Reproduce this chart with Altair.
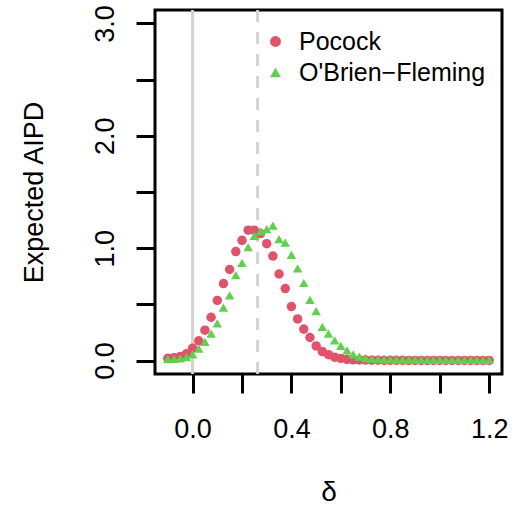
import altair as alt
import pandas as pd

# Effect size grid (delta) and expected AIPD for the two group-sequential designs
delta = [-0.1, -0.075, -0.05, -0.025, 0.0, 0.025, 0.05, 0.075, 0.1, 0.125,
         0.15, 0.175, 0.2, 0.225, 0.25, 0.275, 0.3, 0.325, 0.35, 0.375,
         0.4, 0.425, 0.45, 0.475, 0.5, 0.525, 0.55, 0.575, 0.6, 0.625,
         0.65, 0.675, 0.7, 0.725, 0.75, 0.775, 0.8, 0.825, 0.85, 0.875,
         0.9, 0.925, 0.95, 0.975, 1.0, 1.025, 1.05, 1.075, 1.1, 1.125,
         1.15, 1.175, 1.2]

pocock = [0.020, 0.025, 0.035, 0.060, 0.110, 0.175, 0.270, 0.385, 0.535, 0.685,
          0.810, 0.970, 1.070, 1.160, 1.160, 1.130, 1.040, 0.930, 0.770, 0.640,
          0.480, 0.370, 0.280, 0.205, 0.130, 0.080, 0.052, 0.030, 0.018, 0.010,
          0.006, 0.005, 0.004, 0.003, 0.003, 0.002, 0.002, 0.002, 0.002, 0.001,
          0.001, 0.001, 0.001, 0.001, 0.001, 0.001, 0.001, 0.001, 0.001, 0.001,
          0.001, 0.001, 0.001]

obrien_fleming = [0.012, 0.015, 0.020, 0.030, 0.055, 0.105, 0.165, 0.240, 0.330, 0.470,
                  0.580, 0.760, 0.870, 1.010, 1.110, 1.150, 1.170, 1.200, 1.080, 1.050,
                  0.940, 0.820, 0.690, 0.540, 0.440, 0.300, 0.240, 0.180, 0.130, 0.090,
                  0.055, 0.035, 0.022, 0.016, 0.012, 0.010, 0.009, 0.008, 0.008, 0.007,
                  0.007, 0.007, 0.006, 0.006, 0.006, 0.006, 0.006, 0.006, 0.005, 0.005,
                  0.005, 0.005, 0.005]

series_names = ["Pocock", "O'Brien\u2212Fleming"]
series_colors = ["#DF536B", "#61D04F"]
series_shapes = ["circle", "triangle-up"]

# reference lines: null effect and design effect
ref_solid = [0.0]
ref_dashed = [0.263]

x_ticks = [0.0, 0.2, 0.4, 0.6, 0.8, 1.0, 1.2]
x_labels = ["0.0", "0.4", "0.8", "1.2"]
y_ticks = [0.0, 0.5, 1.0, 1.5, 2.0, 2.5, 3.0]
y_labels = ["0.0", "1.0", "2.0", "3.0"]

points = pd.concat([
    pd.DataFrame({"delta": delta, "aipd": pocock, "design": series_names[0]}),
    pd.DataFrame({"delta": delta, "aipd": obrien_fleming, "design": series_names[1]}),
], ignore_index=True)

FONT = "Liberation Sans"

x_scale = alt.Scale(domain=[-0.152, 1.252], nice=False, zero=False)
y_scale = alt.Scale(domain=[-0.12, 3.12], nice=False, zero=False)

label_list_x = "[" + ",".join("'%s'" % s for s in x_labels) + "]"
label_list_y = "[" + ",".join("'%s'" % s for s in y_labels) + "]"

x_axis = alt.Axis(
    values=x_ticks, format=".1f", title="\u03b4",
    labelExpr="indexof(%s, datum.label) >= 0 ? datum.label : ''" % label_list_x,
    domain=False, grid=False, ticks=True, tickSize=19, tickWidth=3, tickColor="black",
    labelFontSize=27, labelFont=FONT, labelColor="black", labelPadding=44,
    labelBaseline="alphabetic", labelAlign="center", labelFlush=False,
    titleFontSize=28, titleFont=FONT, titleFontWeight="normal", titleColor="black",
    titleY=126, titleBaseline="alphabetic",
)

y_axis = alt.Axis(
    values=y_ticks, format=".1f", title="Expected AIPD",
    labelExpr="indexof(%s, datum.label) >= 0 ? datum.label : ''" % label_list_y,
    domain=False, grid=False, ticks=True, tickSize=19, tickWidth=3, tickColor="black",
    labelFontSize=27, labelFont=FONT, labelColor="black", labelPadding=23,
    labelAngle=-90, labelAlign="center", labelBaseline="alphabetic", labelFlush=False,
    titleFontSize=27, titleFont=FONT, titleFontWeight="normal", titleColor="black",
    titleAngle=-90, titleX=-113, titleY=182, titleAlign="center", titleBaseline="alphabetic",
)

solid_rule = alt.Chart(pd.DataFrame({"delta": ref_solid})).mark_rule(
    color="#D3D3D3", strokeWidth=3
).encode(x=alt.X("delta:Q", scale=x_scale, axis=x_axis))

dashed_rule = alt.Chart(pd.DataFrame({"delta": ref_dashed})).mark_rule(
    color="#D3D3D3", strokeWidth=3, strokeDash=[12, 10]
).encode(x=alt.X("delta:Q", scale=x_scale))

legend = alt.Legend(
    orient="none", legendX=108, legendY=19, title=None,
    labelFontSize=25, labelFont=FONT, labelColor="black", labelOffset=11,
    labelLimit=400, symbolSize=120, rowPadding=5, padding=0, symbolStrokeWidth=0,
)

dots = alt.Chart(points).mark_point(filled=True, size=90, opacity=1).encode(
    x=alt.X("delta:Q", scale=x_scale, axis=x_axis),
    y=alt.Y("aipd:Q", scale=y_scale, axis=y_axis),
    color=alt.Color("design:N", scale=alt.Scale(domain=series_names, range=series_colors), legend=legend),
    shape=alt.Shape("design:N", scale=alt.Scale(domain=series_names, range=series_shapes), legend=legend),
)

chart = alt.layer(solid_rule, dashed_rule, dots).properties(
    width=347, height=364,
    autosize=alt.AutoSizeParams(type="none"),
    padding={"left": 155, "top": 10, "right": 28, "bottom": 133},
    background="white",
).configure_view(stroke="black", strokeWidth=3)

chart.save("out.html", embed_options={"renderer": "svg", "actions": False})
